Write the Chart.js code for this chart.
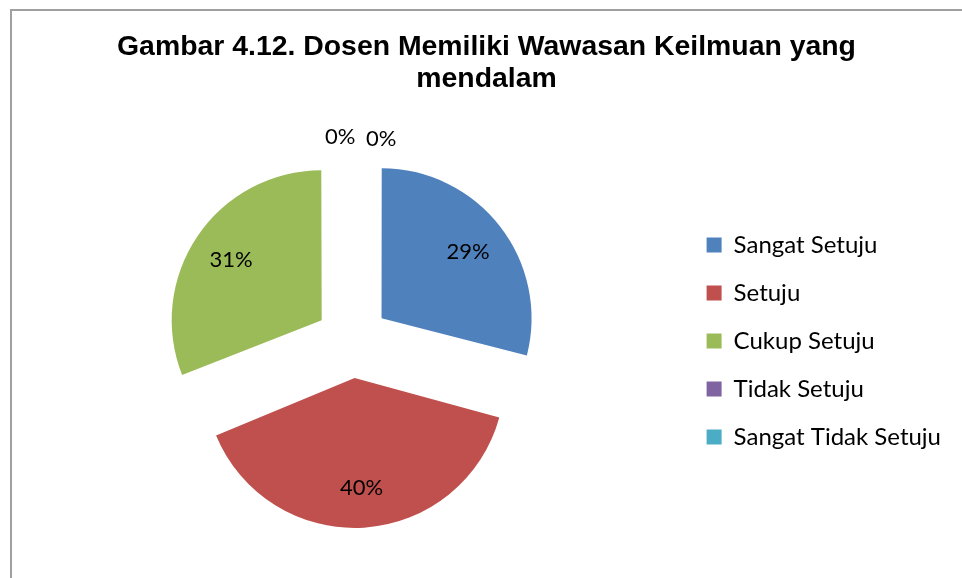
<!DOCTYPE html>
<html>
<head>
<meta charset="utf-8">
<script src="https://cdn.jsdelivr.net/npm/chart.js@4"></script>
<style>
  html, body { margin: 0; padding: 0; background: #fff; overflow: hidden; }
  #frame {
    position: absolute; left: 10px; top: 9px; width: 1000px; height: 1000px;
    border-left: 2px solid #a0a0a0; border-top: 2px solid #a0a0a0;
  }
  #wrap { position: absolute; left: 0; top: 0; width: 962px; height: 578px; }
</style>
</head>
<body>
<div id="frame"></div>
<div id="wrap"><canvas id="myChart"></canvas></div>
<script>
/////////////////////////////
// Data
/////////////////////////////
const categories = ['Sangat Setuju', 'Setuju', 'Cukup Setuju', 'Tidak Setuju', 'Sangat Tidak Setuju'];
const percentValues = [29, 40, 31, 0, 0];
const sliceColors = ['#4F81BD', '#C0504D', '#9BBB59', '#8064A2', '#4BACC6'];

const fontFamily = 'Lato, "Open Sans", sans-serif';
const explode = 37; // px each slice is pulled out (Chart.js arc offset is drawn at 1/4)

/////////////////////////////
// Plugins
/////////////////////////////

// Chart.js grows wide exploded slices by offset * (1 - sin(circumference));
// shrink them back so every slice keeps the same radius
const evenRadius = {
  id: 'evenRadius',
  beforeDatasetsDraw(chart) {
    const meta = chart.getDatasetMeta(0);
    const baseR = meta.controller.outerRadius;
    meta.data.forEach((arc) => {
      const fix = 1 - Math.sin(Math.min(Math.PI, arc.circumference || 0));
      arc.outerRadius = baseR - explode * fix;
    });
  }
};

// Percentage labels
const sliceLabels = {
  id: 'sliceLabels',
  afterDatasetsDraw(chart) {
    const ctx = chart.ctx;
    const meta = chart.getDatasetMeta(0);
    const baseR = meta.controller.outerRadius;
    const values = chart.data.datasets[0].data;
    let zeroCount = 0;
    ctx.save();
    ctx.font = '22px ' + fontFamily;
    ctx.fillStyle = '#000';
    ctx.textAlign = 'center';
    ctx.textBaseline = 'alphabetic';
    meta.data.forEach((arc, i) => {
      const p = arc.getProps(['x', 'y', 'startAngle', 'endAngle'], true);
      let lx, ly;
      if (values[i] > 0) {
        const mid = (p.startAngle + p.endAngle) / 2;
        const r = explode + baseR * 0.73;
        lx = p.x + Math.cos(mid) * r;
        ly = p.y + Math.sin(mid) * r;
      } else {
        lx = p.x - 12 + zeroCount * 41;
        ly = p.y - (explode + baseR) - 18 + zeroCount * 2;
        zeroCount++;
      }
      ctx.fillText(values[i] + '%', lx, ly + 8);
    });
    ctx.restore();
  }
};

/////////////////////////////
// Chart
/////////////////////////////
const ctx = document.getElementById('myChart').getContext('2d');
const myChart = new Chart(ctx, {
  type: 'pie',
  data: {
    labels: categories,
    datasets: [{
      data: percentValues,
      backgroundColor: sliceColors,
      borderWidth: 0,
      offset: explode * 4,
      radius: 150
    }]
  },
  options: {
    responsive: true,
    maintainAspectRatio: false,
    animation: false,
    layout: { padding: { left: 22, right: 11, top: 0, bottom: 2 } },
    plugins: {
      title: {
        display: true,
        text: ['Gambar 4.12. Dosen Memiliki Wawasan Keilmuan yang', 'mendalam'],
        color: '#000',
        font: { family: '"Liberation Sans", Arial, sans-serif', size: 28.4, weight: 'bold', lineHeight: 32 / 28.4 },
        padding: { top: 31, bottom: 11 }
      },
      legend: {
        position: 'right',
        fullSize: false,
        labels: {
          color: '#000',
          font: { family: fontFamily, size: 24 },
          boxWidth: 15,
          boxHeight: 15,
          padding: 24
        }
      },
      tooltip: { enabled: false }
    }
  },
  plugins: [evenRadius, sliceLabels]
});
</script>
</body>
</html>
